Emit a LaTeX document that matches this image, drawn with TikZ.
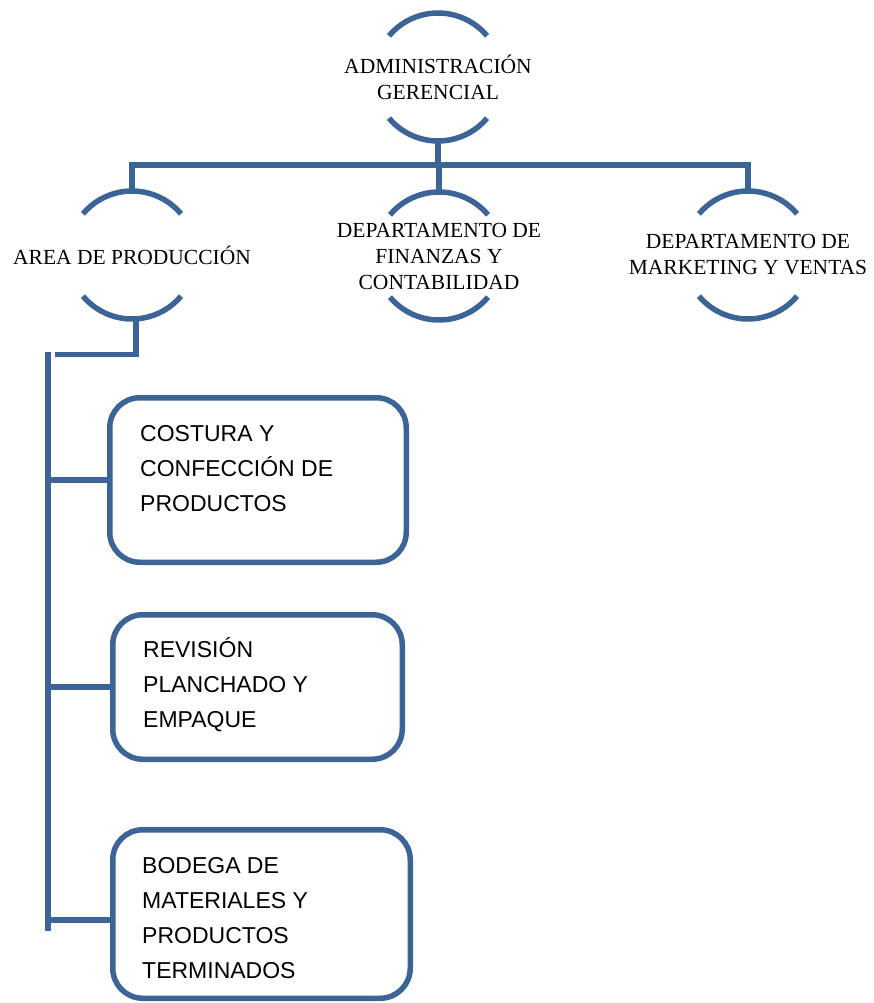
\documentclass[tikz,border=0pt]{standalone}
\usepackage{fontspec}
\setmainfont{Liberation Serif}
\newfontfamily\boxfont{Liberation Sans}
\usepackage{tikz}
\usepackage{xcolor}
\usetikzlibrary{positioning}

\definecolor{org-blue}{RGB}{60,100,150}

\begin{document}
\begin{tikzpicture}
[
x = 1pt, y = 1pt,
unit-a/.style={align=center, inner sep=0pt, font=\fontsize{21.5}{26}\selectfont},
line-a/.style={draw=org-blue, line width=5.5pt},
box-a/.style={line-a, rounded corners=30pt, inner sep=0pt},
item-a/.style={align=left, inner sep=0pt, font=\boxfont\fontsize{23}{35}\selectfont}
]
\useasboundingbox (0,0) rectangle (873,-1003);

% units with open circles
\node (admin)   [unit-a] at (438,-77)   {ADMINISTRACIÓN\\GERENCIAL};
\node (unit-1)  [unit-a] at (132,-255)  {AREA DE PRODUCCIÓN};
\node (unit-2)  [unit-a] at (439,-256)  {DEPARTAMENTO DE\\FINANZAS Y\\CONTABILIDAD};
\node (unit-3)  [unit-a] at (748,-255)  {DEPARTAMENTO DE\\MARKETING Y VENTAS};

\foreach \u in {admin, unit-1, unit-2, unit-3} {
  \draw [line-a] ([shift={(40:64)}]\u.center)  arc[start angle=40,  end angle=140, radius=64];
  \draw [line-a] ([shift={(220:64)}]\u.center) arc[start angle=220, end angle=320, radius=64];
}

% top level connectors
\coordinate (bar-mid) at (438,-165);
\draw [line-a] ([yshift=-64pt]admin.center) -- (bar-mid);
\draw [line-a] ([yshift=64pt]unit-1.center) -- (unit-1 |- bar-mid) -- (unit-3 |- bar-mid) -- ([yshift=64pt]unit-3.center);
\draw [line-a] ([yshift=64pt]unit-2.center) -- (unit-2 |- bar-mid);

% boxes of the production area
\node (box-1)  [box-a, minimum width=296.5pt, minimum height=164.5pt] at (258,-480)   {};
\node (box-2)  [box-a, minimum width=289.5pt, minimum height=144.5pt] at (257.5,-687) {};
\node (box-3)  [box-a, minimum width=297.5pt, minimum height=168.5pt] at (261.5,-914) {};

\node (item-1) [item-a, below right = 30pt and 33pt of box-1.north west]   {COSTURA Y\\CONFECCIÓN DE\\PRODUCTOS};
\node (item-2) [item-a, below right = 25.5pt and 33pt of box-2.north west] {REVISIÓN\\PLANCHADO Y\\EMPAQUE};
\node (item-3) [item-a, below right = 30pt and 32pt of box-3.north west]   {BODEGA DE\\MATERIALES Y\\PRODUCTOS\\TERMINADOS};

% production connectors
\coordinate (prod-foot) at (136,-354.5);
\coordinate (prod-tail) at (55,-354.5);
\coordinate (spine-top) at (48,-352);
\coordinate (spine-end) at (48,-931);
\draw [line-a] ([xshift=4pt, yshift=-64pt]unit-1.center) -- (prod-foot) -- (prod-tail);
\draw [line-a] (spine-top) -- (spine-end);
\draw [line-a] (spine-top |- box-1.west) -- (box-1.west);
\draw [line-a] (spine-top |- box-2.west) -- (box-2.west);
\draw [line-a] ([yshift=-6pt]spine-top |- box-3.west) -- ([yshift=-6pt]box-3.west);
\end{tikzpicture}
\end{document}
